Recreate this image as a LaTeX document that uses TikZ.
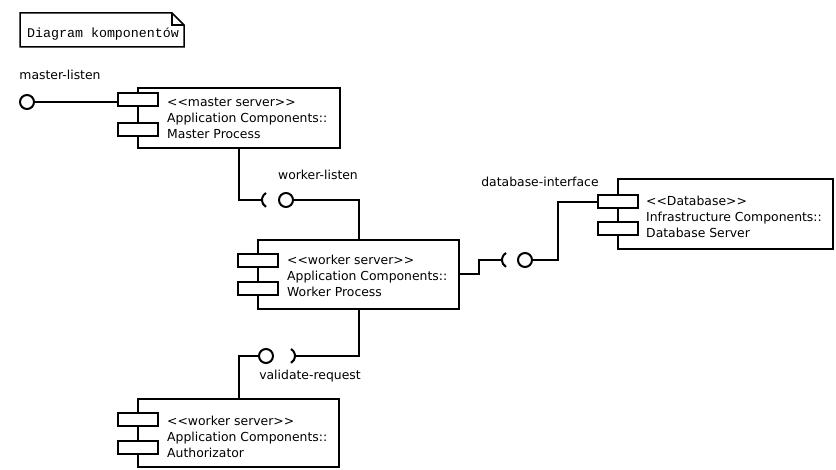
\documentclass[tikz,border=0pt]{standalone}
\usepackage{fontspec}
\setmainfont{DejaVu Sans}
\newfontfamily\notefont{Liberation Mono}
\begin{document}
\begin{tikzpicture}[x=1pt,y=-1pt,
  box/.style={draw, line width=2pt, fill=white, inner sep=0pt},
  port/.style={box, minimum width=40pt, minimum height=13pt},
  ball/.style={draw, line width=2pt, fill=white, circle, minimum size=14pt, inner sep=0pt},
  wire/.style={line width=2pt},
  lbl/.style={font=\fontsize{12.4}{15}\selectfont, inner sep=0pt},
  ctext/.style={font=\fontsize{12.4}{16}\selectfont, align=left, anchor=west, inner sep=0pt}]
\useasboundingbox (0,0) rectangle (836,470);
% note
\draw[line width=1.5pt] (20,13) -- (172,13) -- (184,25) -- (184,47) -- (20,47) -- cycle;
\draw[line width=1.5pt] (172,13) -- (172,25) -- (184,25);
\node[anchor=base west, inner sep=0pt, font=\notefont\fontsize{13.3}{15}\selectfont] (title) at (27,38) {Diagram komponentów};
% components
\node[box, minimum width=202pt, minimum height=60pt] (master) at (239,118) {};
\node[port] (mp1) at (138,99.5) {};
\node[port] (mp2) at (138,129.5) {};
\node[ctext] (mt) at (167,118) {<{}<master server>{}>\\Application Components::\\Master Process};

\node[box, minimum width=201pt, minimum height=69pt] (worker) at (358.5,274.5) {};
\node[port] (wp1) at (257.5,261) {};
\node[port] (wp2) at (257.5,288.5) {};
\node[ctext] (wt) at (287,276) {<{}<worker server>{}>\\Application Components::\\Worker Process};

\node[box, minimum width=215pt, minimum height=70pt] (db) at (725.5,214) {};
\node[port] (dbp1) at (617.5,202) {};
\node[port] (dbp2) at (617.5,228.5) {};
\node[ctext] (dbt) at (646,217) {<{}<Database>{}>\\Infrastructure Components::\\Database Server};

\node[box, minimum width=201pt, minimum height=68pt] (auth) at (238.5,433) {};
\node[port] (ap1) at (137.5,420) {};
\node[port] (ap2) at (137.5,447.5) {};
\node[ctext] (at) at (167,437) {<{}<worker server>{}>\\Application Components::\\Authorizator};

% master-listen
\node[ball] (mlb) at (27,102) {};
\draw[wire] (mlb.east) -- (mlb.east -| mp1.west);
\node[lbl] (lml) at (60,75) {master-listen};

% worker-listen
\coordinate (wlsock) at (262,200);
\node[ball] (wlb) at (286,200) {};
\draw[wire] (master.south) |- (wlsock);
\draw[wire] ([shift={(4,-7)}]wlsock) arc[start angle=120, end angle=240, radius=8pt];
\draw[wire] (wlb.east) -| (worker.north);
\node[lbl] (lwl) at (318,175) {worker-listen};

% database-interface
\coordinate (dbsock) at (502,260);
\node[ball] (dbb) at (525,260) {};
\draw[wire] (worker.east) -- ++(19,0) |- (dbsock);
\draw[wire] ([shift={(4,-7)}]dbsock) arc[start angle=120, end angle=240, radius=8pt];
\draw[wire] (dbb.east) -- ++(25,0) |- (dbp1.west);
\node[lbl] (ldb) at (540,182) {database-interface};

% validate-request
\coordinate (vrsock) at (295,356);
\node[ball] (vrb) at (266,356) {};
\draw[wire] (worker.south) |- (vrsock);
\draw[wire] ([shift={(-4,-7)}]vrsock) arc[start angle=60, end angle=-60, radius=8pt];
\draw[wire] (vrb.west) -| (auth.north);
\node[lbl] (lvr) at (310,376) {validate-request};
\end{tikzpicture}
\end{document}
